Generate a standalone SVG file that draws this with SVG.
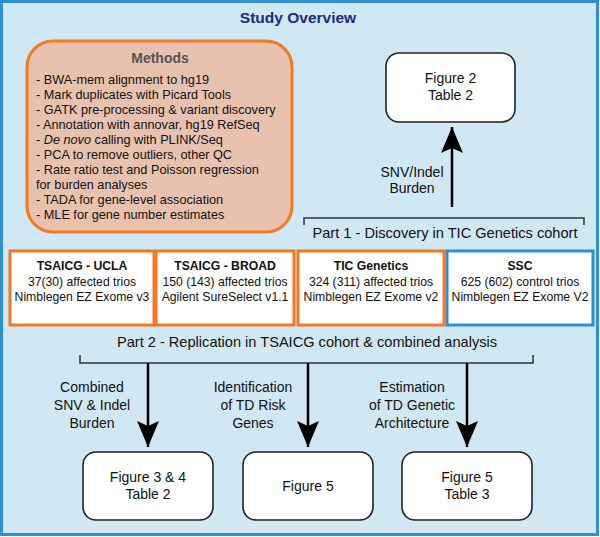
<svg xmlns="http://www.w3.org/2000/svg" width="600" height="537" viewBox="0 0 600 537">
<style>
text{font-family:"Liberation Sans",Arial,sans-serif;fill:#111}
.c{text-anchor:middle}
.t{font-size:12.7px}
.s{font-size:12.2px}
.l{font-size:14px}
.p{font-size:14.6px}
.b{font-weight:bold}
.cohort{fill:#fff;stroke:#f47920;stroke-width:3}
.fig{fill:#fff;stroke:#222;stroke-width:1.6}
.br{fill:none;stroke:#333;stroke-width:1.5}
.ar{stroke:#000;stroke-width:2.5;fill:none}
</style>
<defs>
<marker id="ahb" viewBox="0 0 26 22" refX="26" refY="11" markerWidth="26" markerHeight="22" markerUnits="userSpaceOnUse" orient="auto">
<path d="M0,0 L26,11 L0,22 L5,11 Z" fill="#000"/>
</marker>
</defs>
<rect x="1.5" y="1.5" width="596" height="533" fill="#cfe8f3" stroke="#2f8fd2" stroke-width="3"/>
<text class="c b" x="298" y="23" style="font-size:15.5px;fill:#1c2a86">Study Overview</text>

<g id="methods">
<rect x="27" y="41" width="265" height="191" rx="26" fill="#e8c2ae" stroke="#f47920" stroke-width="3"/>
<text class="c b" x="160" y="63" style="font-size:14px;fill:#555">Methods</text>
<text class="t" x="36" y="83.5">- BWA-mem alignment to hg19</text>
<text class="t" x="36" y="98.6">- Mark duplicates with Picard Tools</text>
<text class="t" x="36" y="113.7">- GATK pre-processing &amp; variant discovery</text>
<text class="t" x="36" y="128.8">- Annotation with annovar, hg19 RefSeq</text>
<text class="t" x="36" y="143.9">- <tspan font-style="italic">De novo</tspan> calling with PLINK/Seq</text>
<text class="t" x="36" y="159">- PCA to remove outliers, other QC</text>
<text class="t" x="36" y="174.1">- Rate ratio test and Poisson regression</text>
<text class="t" x="36" y="189.2">for burden analyses</text>
<text class="t" x="36" y="204.3">- TADA for gene-level association</text>
<text class="t" x="36" y="219.4">- MLE for gene number estimates</text>
</g>

<g id="fig2">
<rect class="fig" x="386" y="53" width="129" height="69" rx="13"/>
<text class="c l" x="450.5" y="83">Figure 2</text>
<text class="c l" x="450.5" y="100">Table 2</text>
</g>

<g id="ucla">
<rect class="cohort" x="10" y="251" width="144" height="74"/>
<text class="c s b" x="82" y="270">TSAICG - UCLA</text>
<text class="c s" x="82" y="286">37(30) affected trios</text>
<text class="c s" x="82" y="301">Nimblegen EZ Exome v3</text>
</g>
<g id="broad">
<rect class="cohort" x="156" y="251" width="138" height="74"/>
<text class="c s b" x="225" y="270">TSAICG - BROAD</text>
<text class="c s" x="225" y="286">150 (143) affected trios</text>
<text class="c s" x="225" y="301">Agilent SureSelect v1.1</text>
</g>
<g id="tic">
<rect class="cohort" x="298" y="251" width="146" height="74"/>
<text class="c s b" x="371" y="270">TIC Genetics</text>
<text class="c s" x="371" y="286">324 (311) affected trios</text>
<text class="c s" x="371" y="301">Nimblegen EZ Exome v2</text>
</g>
<g id="ssc">
<rect x="447" y="251" width="146" height="74" fill="#fff" stroke="#2f8fd2" stroke-width="3"/>
<text class="c s b" x="520" y="270">SSC</text>
<text class="c s" x="520" y="286">625 (602) control trios</text>
<text class="c s" x="520" y="301">Nimblegen EZ Exome V2</text>
</g>

<g id="fig34">
<rect class="fig" x="83" y="452" width="130" height="68" rx="13"/>
<text class="c l" x="148" y="482">Figure 3 &amp; 4</text>
<text class="c l" x="148" y="499">Table 2</text>
</g>
<g id="fig5">
<rect class="fig" x="243" y="452" width="130" height="68" rx="13"/>
<text class="c l" x="308" y="491">Figure 5</text>
</g>
<g id="fig5t3">
<rect class="fig" x="402" y="452" width="130" height="68" rx="13"/>
<text class="c l" x="467" y="482">Figure 5</text>
<text class="c l" x="467" y="499">Table 3</text>
</g>

<g id="connectors">
<path class="br" d="M304,225 V218 H584 V225"/>
<text class="c p" x="445" y="238">Part 1 - Discovery in TIC Genetics cohort</text>
<path class="ar" d="M452,207 V127" marker-end="url(#ahb)"/>
<text class="c l" x="412" y="177">SNV/Indel</text>
<text class="c l" x="412" y="193">Burden</text>

<text class="c p" x="307" y="347">Part 2 - Replication in TSAICG cohort &amp; combined analysis</text>
<path class="br" d="M80,355 V363 H533 V355"/>
<path class="ar" d="M148,363 V447" marker-end="url(#ahb)"/>
<path class="ar" d="M308,363 V447" marker-end="url(#ahb)"/>
<path class="ar" d="M467,363 V447" marker-end="url(#ahb)"/>
<text class="c l" x="92" y="392">Combined</text>
<text class="c l" x="92" y="410">SNV &amp; Indel</text>
<text class="c l" x="92" y="428">Burden</text>
<text class="c l" x="253" y="392">Identification</text>
<text class="c l" x="253" y="410">of TD Risk</text>
<text class="c l" x="253" y="428">Genes</text>
<text class="c l" x="412" y="392">Estimation</text>
<text class="c l" x="412" y="410">of TD Genetic</text>
<text class="c l" x="412" y="428">Architecture</text>
</g>
</svg>
